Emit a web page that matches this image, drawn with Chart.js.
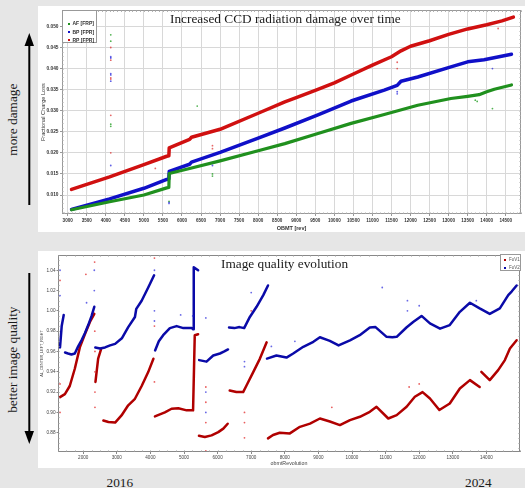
<!DOCTYPE html>
<html><head><meta charset="utf-8">
<script src="https://cdn.jsdelivr.net/npm/chart.js@4.4.1/dist/chart.umd.min.js"></script>
<style>
html,body{margin:0;padding:0;}
body{width:525px;height:488px;background:#e6e6e6;position:relative;overflow:hidden;}
.panel{position:absolute;background:#fff;}
#p1{left:38px;top:6px;width:487px;height:226px;}
#p2{left:38px;top:251px;width:487px;height:217px;}
canvas{position:absolute;left:0;top:0;}
.serif{position:absolute;font-family:"Liberation Serif","Times New Roman",serif;font-size:13.3px;line-height:13.3px;color:#1a1a1a;white-space:nowrap;}
.rot{width:200px;text-align:center;transform:rotate(-90deg);transform-origin:50% 50%;}
.leg{position:absolute;background:#fff;border:1px solid #999;box-sizing:border-box;}
.li{position:absolute;font-family:"Liberation Sans",Arial,sans-serif;white-space:nowrap;}
.dot{position:absolute;width:2px;height:2px;}
svg{position:absolute;left:0;top:0;}
</style></head>
<body>
<div class="panel" id="p1"><canvas id="c1" width="487" height="226"></canvas></div>
<div class="panel" id="p2"><canvas id="c2" width="487" height="217"></canvas></div>

<div class="serif" style="left:170px;top:12px;">Increased CCD radiation damage over time</div>
<div class="serif" style="left:221px;top:257px;">Image quality evolution</div>
<div class="serif rot" style="left:-87px;top:112.5px;">more damage</div>
<div class="serif rot" style="left:-87.5px;top:352.5px;">better image quality</div>
<div class="serif" style="left:106.5px;top:475.5px;">2016</div>
<div class="serif" style="left:465px;top:475.5px;">2024</div>

<svg width="525" height="488">
  <line x1="29.3" y1="205" x2="29.3" y2="44" stroke="#000" stroke-width="2"/>
  <polygon points="24.5,46 29.3,33 34,46" fill="#000"/>
  <line x1="29.3" y1="273" x2="29.3" y2="432" stroke="#000" stroke-width="2"/>
  <polygon points="24.5,431 29.3,444 34,431" fill="#000"/>
</svg>

<div class="leg" style="left:61.5px;top:10px;width:35.5px;height:33px;">
  <div class="dot" style="left:5px;top:11.5px;background:#20901e;"></div>
  <div class="li" style="left:10px;top:9px;font-size:5px;line-height:6px;font-weight:bold;color:#333;">AF [FRP]</div>
  <div class="dot" style="left:5px;top:20px;background:#1010c8;"></div>
  <div class="li" style="left:10px;top:17.5px;font-size:5px;line-height:6px;font-weight:bold;color:#333;">BP [FPR]</div>
  <div class="dot" style="left:5px;top:28.3px;background:#d01010;"></div>
  <div class="li" style="left:10px;top:25.8px;font-size:5px;line-height:6px;font-weight:bold;color:#333;">RP [FPR]</div>
</div>
<div class="leg" style="left:500px;top:253.7px;width:21px;height:17.5px;">
  <div class="dot" style="left:3px;top:4px;background:#b00000;"></div>
  <div class="li" style="left:8px;top:2px;font-size:4.5px;line-height:5px;color:#555;">FoV1</div>
  <div class="dot" style="left:3px;top:12.3px;background:#0a0aa8;"></div>
  <div class="li" style="left:8px;top:10.3px;font-size:4.5px;line-height:5px;color:#555;">FoV2</div>
</div>

<script>
// ---------- Top chart data ----------
const topXTicks = [3000,3500,4000,4500,5000,5500,6000,6500,7000,7500,8000,8500,9000,9500,10000,10500,11000,11500,12000,12500,13000,13500,14000,14500];
const topYTicks = [0.010,0.015,0.020,0.025,0.030,0.035,0.040,0.045,0.050];

const afRev = [3100,4100,5000,5600,5655,5665,6200,7000,8000,8700,9570,10440,11310,12190,13060,13500,13800,14000,14200,14650];
const afVal = [0.0065,0.0084,0.0100,0.0117,0.0118,0.0151,0.0163,0.0181,0.0205,0.0222,0.0246,0.0270,0.0291,0.0313,0.0329,0.0334,0.0338,0.0345,0.0351,0.0361];

const bpRev = [3100,4100,5000,5600,5655,5665,6200,6250,7000,8000,8700,9570,10440,11310,11650,11750,12190,13060,13500,13930,14650];
const bpVal = [0.0066,0.0091,0.0116,0.0137,0.0138,0.0156,0.0173,0.0178,0.0201,0.0235,0.0259,0.0290,0.0323,0.0349,0.0360,0.0370,0.0380,0.0404,0.0416,0.0421,0.0434];

const rpRev = [3100,4100,5000,5600,5655,5665,6200,6250,7000,8000,8700,9000,9500,10000,10500,11000,11500,11750,12000,12500,13000,13500,14000,14400,14700];
const rpVal = [0.01135,0.0143,0.0172,0.0192,0.0193,0.0212,0.0232,0.0237,0.0256,0.0294,0.0321,0.0331,0.0348,0.0366,0.0387,0.0408,0.0428,0.0442,0.0453,0.0466,0.0481,0.0494,0.0504,0.0513,0.0522];

const afOutRev = [4130,4130,4130,4130,6400,6800,6800,5660,14150,13700,13750];
const afOutVal = [0.0480,0.0465,0.0268,0.0263,0.0311,0.0150,0.0145,0.0085,0.0305,0.0325,0.0322];
const bpOutRev = [4130,4130,4130,4130,4130,4130,5660,5660,6800,11650,11650,14150];
const bpOutVal = [0.0428,0.0425,0.0388,0.0385,0.0370,0.0170,0.0083,0.0080,0.0170,0.0340,0.0345,0.0400];
const rpOutRev = [4130,4130,4130,4130,4130,4130,5300,6800,6800,11650,11650,14300];
const rpOutVal = [0.0450,0.0420,0.0378,0.0375,0.0289,0.0200,0.0163,0.0217,0.0210,0.0415,0.0400,0.0495];

// ---------- Bottom chart data ----------
const botXTicks = [2000,3000,4000,5000,6000,7000,8000,9000,10000,11000,12000,13000,14000];
const botYTicks = [0.88,0.90,0.92,0.94,0.96,0.98,1.00,1.02,1.04];

const fov2Rev = [1310,1360,1420,1440, 1460,1550,1650,1750,1850,1950,2050,2150,2250,2330,2345,
  2360,2500,2650,2800,2950,3150,3340,3540,3580,3740,3935,4110,4125,
  4140,4250,4380,4580,4780,4980,5230,5270,5290,5420,5435,
  5450,5670,5870,6070,6200,6310,6325,
  6340,6500,6650,6790,6960,7160,7360,7500,7485,
  7470,7750,8050,8250,8550,8850,9045,9340,9600,9940,10230,10530,10700,11030,11200,11330,11620,11820,12070,12320,12620,12910,13210,13510,13800,14100,14400,14650,14750,14900];
const fov2Val = [0.964,0.985,0.996,null, 0.959,0.958,0.957,0.958,0.965,0.971,0.978,0.986,0.995,1.004,null,
  0.964,0.963,0.964,0.966,0.9675,0.973,0.984,0.994,1.002,1.010,1.023,1.035,null,
  0.961,0.970,0.976,0.983,0.985,0.983,0.983,0.982,1.043,1.040,null,
  0.9515,0.950,0.956,0.958,0.960,0.962,null,
  0.9836,0.983,0.984,0.983,0.994,1.004,1.0155,1.025,null,
  0.953,0.956,0.954,0.958,0.9646,0.9695,0.974,0.9705,0.966,0.971,0.976,0.9836,0.984,0.9744,0.974,0.9744,0.9836,0.989,0.995,0.9876,0.9825,0.986,0.999,1.008,1.0024,0.997,1.0024,1.0155,1.019,1.025];

const fov1Rev = [1310,1455,1600,1750,1900,2050,2200,2330,2350,
  2365,2445,2530,2565,
  2600,2750,2950,3140,3340,3540,3740,3935,4090,4110,
  4135,4430,4630,4830,5080,5270,5320,5420,5435,
  5445,5620,5820,6020,6170,6300,6330,
  6360,6560,6760,6860,7060,7260,7460,7480,
  7500,7650,7850,8150,8450,8750,9045,9340,9640,9940,10235,10530,10730,11080,11330,11625,11870,12100,12320,12600,12910,13210,13510,13800,13825,
  13850,14100,14350,14550,14700,14900];
const fov1Val = [0.915,0.918,0.926,0.943,0.964,0.977,0.989,0.997,null,
  0.930,0.953,0.962,null,
  0.892,0.8905,0.890,0.897,0.907,0.9134,0.926,0.9397,0.9528,null,
  0.896,0.900,0.9036,0.904,0.902,0.902,0.976,0.977,null,
  0.877,0.8757,0.8774,0.8806,0.884,0.8888,null,
  0.9216,0.920,0.920,0.9265,0.9397,0.953,0.969,null,
  0.8744,0.8777,0.880,0.8793,0.8858,0.889,0.894,0.891,0.8875,0.8924,0.8957,0.9006,0.9055,0.894,0.8973,0.9055,0.9154,0.920,0.9137,0.9023,0.9088,0.9236,0.9318,0.925,null,
  0.940,0.9318,0.9416,0.9515,0.963,0.971];

const fov1OutRev = [1310,1310,1310,2080,2340,2345,2350,2350,2350,2350,4120,4120,4120,5650,5650,5650,5650,6800,6800,6800,7000,9400,11700,12000];
const fov1OutVal = [1.030,0.928,0.900,1.036,1.048,0.980,0.960,0.940,0.920,0.905,1.052,0.985,0.930,0.925,0.910,0.890,0.862,0.900,0.890,0.875,1.000,0.905,0.925,0.928];
const fov2OutRev = [1310,1310,2330,2330,2100,4120,4120,4120,4900,5260,5650,5650,5650,6800,6800,7000,7600,8300,10900,11650,11650,12000,13700];
const fov2OutVal = [1.040,1.015,1.040,1.020,1.008,1.040,0.990,1.000,0.996,0.995,0.993,0.920,0.900,0.945,0.950,1.018,0.965,0.970,1.023,1.010,1.000,1.005,1.010];

function pts(xs, ys){ return xs.map((x,i)=>({x:x, y:ys[i]})); }

const frame = {
  id:'frame',
  afterDraw(c, args, o){
    const ctx=c.ctx, a=c.chartArea, xs=c.scales.x, ys=c.scales.y;
    ctx.save();
    ctx.strokeStyle=o.color; ctx.lineWidth=1;
    ctx.strokeRect(Math.round(a.left)+0.5, Math.round(a.top)+0.5, Math.round(a.right-a.left)-1, Math.round(a.bottom-a.top)-1);
    ctx.strokeStyle=o.minorColor;
    ctx.beginPath();
    for(let v=Math.ceil(xs.min/o.mx)*o.mx; v<=xs.max; v+=o.mx){
      const p=Math.round(xs.getPixelForValue(v))+0.5;
      ctx.moveTo(p,a.bottom); ctx.lineTo(p,a.bottom-o.len);
      ctx.moveTo(p,a.top); ctx.lineTo(p,a.top+o.len);
    }
    for(let k=Math.ceil(ys.min/o.my); k*o.my<=ys.max; k++){
      const p=Math.round(ys.getPixelForValue(k*o.my))+0.5;
      ctx.moveTo(a.left,p); ctx.lineTo(a.left+o.len,p);
      ctx.moveTo(a.right,p); ctx.lineTo(a.right-o.len,p);
    }
    ctx.stroke();
    ctx.restore();
  }
};

const sans = 'Liberation Sans, Arial, sans-serif';

function lineDs(xs, ys, color, w){
  return {data:pts(xs,ys), showLine:true, borderColor:color, borderWidth:w, pointRadius:0, spanGaps:false, borderJoinStyle:'round', borderCapStyle:'round'};
}
function dotDs(xs, ys, color){
  return {data:pts(xs,ys), showLine:false, pointRadius:0.9, pointBorderWidth:0, pointBackgroundColor:color};
}

new Chart(document.getElementById('c1'), {
  type:'scatter',
  data:{datasets:[
    dotDs(afOutRev, afOutVal, 'rgba(40,160,40,0.8)'),
    dotDs(bpOutRev, bpOutVal, 'rgba(30,30,220,0.7)'),
    dotDs(rpOutRev, rpOutVal, 'rgba(220,40,40,0.7)'),
    lineDs(afRev, afVal, '#20901e', 3.2),
    lineDs(bpRev, bpVal, '#1010c8', 3.5),
    lineDs(rpRev, rpVal, '#d01010', 3.5)
  ]},
  options:{
    responsive:false, animation:false, events:[], devicePixelRatio:1,
    layout:{padding:{left:0, top:4, right:3, bottom:0}},
    plugins:{legend:{display:false}, tooltip:{enabled:false},
      frame:{color:'#999', minorColor:'#aaa', mx:100, my:0.001, len:1.5}},
    scales:{
      x:{type:'linear', min:2850, max:14900,
        afterBuildTicks(s){ s.ticks = topXTicks.map(v=>({value:v})); },
        afterFit(s){ s.height=18; },
        grid:{color:'#d8d8d8', lineWidth:1, tickLength:2, tickColor:'#999'},
        border:{display:false},
        ticks:{callback:v=>String(v), font:{family:sans, size:4.6, weight:'bold'}, color:'#333', padding:1.5, maxRotation:0, autoSkip:false},
        title:{display:true, text:'OBMT [rev]', font:{family:sans, size:5.5, weight:'bold'}, color:'#333', padding:{top:0,bottom:0}}
      },
      y:{type:'linear', min:0.0055, max:0.0538,
        afterBuildTicks(s){ s.ticks = topYTicks.map(v=>({value:v})); },
        afterFit(s){ s.width=24; },
        grid:{color:'#d8d8d8', lineWidth:1, tickLength:2, tickColor:'#999'},
        border:{display:false},
        ticks:{callback:v=>v.toFixed(3), font:{family:sans, size:4.8, weight:'bold'}, color:'#333', padding:1.5, autoSkip:false},
        title:{display:true, text:'Fractional Charge Loss', font:{family:sans, size:5.6}, color:'#333', padding:{top:2,bottom:0}}
      }
    }
  },
  plugins:[frame]
});

new Chart(document.getElementById('c2'), {
  type:'scatter',
  data:{datasets:[
    dotDs(fov1OutRev, fov1OutVal, 'rgba(225,40,40,0.75)'),
    dotDs(fov2OutRev, fov2OutVal, 'rgba(40,40,220,0.7)'),
    lineDs(fov2Rev, fov2Val, '#0a0aa8', 2.5),
    lineDs(fov1Rev, fov1Val, '#b00000', 2.5)
  ]},
  options:{
    responsive:false, animation:false, events:[], devicePixelRatio:1,
    layout:{padding:{left:0, top:3, right:5, bottom:0}},
    plugins:{legend:{display:false}, tooltip:{enabled:false},
      frame:{color:'#888', minorColor:'#999', mx:250, my:0.005, len:1.5}},
    scales:{
      x:{type:'linear', min:1250, max:15000,
        afterBuildTicks(s){ s.ticks = botXTicks.map(v=>({value:v})); },
        afterFit(s){ s.height=16; },
        grid:{drawOnChartArea:false, tickLength:2, tickColor:'#888'},
        border:{display:false},
        ticks:{callback:v=>String(v), font:{family:sans, size:4.6}, color:'#444', padding:1, maxRotation:0, autoSkip:false},
        title:{display:true, text:'obmtRevolution', font:{family:sans, size:5.3}, color:'#444', padding:{top:0,bottom:0.8}}
      },
      y:{type:'linear', min:0.861, max:1.055,
        afterBuildTicks(s){ s.ticks = botYTicks.map(v=>({value:v})); },
        afterFit(s){ s.width=20; },
        grid:{drawOnChartArea:false, tickLength:1.5, tickColor:'#888'},
        border:{display:false},
        ticks:{callback:v=>v.toFixed(2), font:{family:sans, size:4.7}, color:'#444', padding:1, autoSkip:false},
        title:{display:true, text:'AL_CENTER_LEFT_RIGHT', font:{family:sans, size:3.7}, color:'#444', padding:{top:2,bottom:0}}
      }
    }
  },
  plugins:[frame]
});
</script>
</body></html>
